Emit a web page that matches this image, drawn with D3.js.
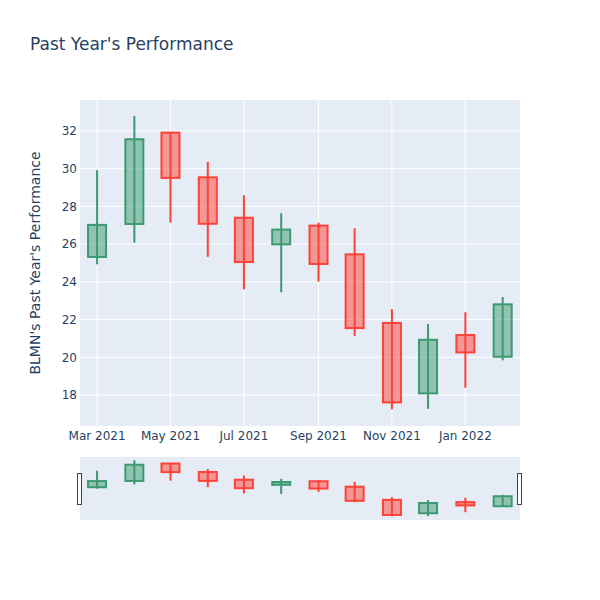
<!DOCTYPE html>
<html>
<head>
<meta charset="utf-8">
<script src="https://cdn.jsdelivr.net/npm/d3@7"></script>
<style>
  body { margin: 0; background: #fff; }
  text { font-family: "DejaVu Sans", "Open Sans", sans-serif; fill: #2a3f5f; }
</style>
</head>
<body>
<div id="chart"></div>
<script>
var months = ['2021-03-01', '2021-04-01', '2021-05-01', '2021-06-01', '2021-07-01', '2021-08-01',
              '2021-09-01', '2021-10-01', '2021-11-01', '2021-12-01', '2022-01-01', '2022-02-01'];
var openVals  = [25.32, 27.07, 31.91, 29.54, 27.40, 25.99, 26.98, 25.46, 21.82, 18.09, 21.18, 20.03];
var highVals  = [29.92, 32.80, 31.95, 30.36, 28.59, 27.64, 27.14, 26.84, 22.56, 21.77, 22.39, 23.20];
var lowVals   = [24.93, 26.08, 27.14, 25.33, 23.60, 23.45, 24.01, 21.13, 17.24, 17.27, 18.39, 19.84];
var closeVals = [27.02, 31.56, 29.51, 27.08, 25.05, 26.77, 24.95, 21.55, 17.61, 20.93, 20.26, 22.81];
var yTicks = [18, 20, 22, 24, 26, 28, 30, 32];
var xTicks = ['2021-03-01', '2021-05-01', '2021-07-01', '2021-09-01', '2021-11-01', '2022-01-01'];

var INC = '#3D9970', DEC = '#FF4136';
var W = 600, H = 600;
var plot = { left: 80, right: 520, top: 100, bottom: 426 };
var slider = { top: 457, bottom: 520 };

var parse = d3.utcParse('%Y-%m-%d');
var data = months.map(function (m, i) {
  return { date: parse(m), open: openVals[i], high: highVals[i], low: lowVals[i], close: closeVals[i] };
});

var DAY = 86400000;
var x = d3.scaleUtc()
  .domain([new Date(parse('2021-03-01').getTime() - 14.17 * DAY), new Date(parse('2022-02-01').getTime() + 14.4 * DAY)])
  .range([plot.left, plot.right]);
var y = d3.scaleLinear().domain([16.36, 33.64]).range([plot.bottom, plot.top]);
var ys = d3.scaleLinear().domain([16.22, 33.71]).range([slider.bottom, slider.top]);

var svg = d3.select('#chart').append('svg').attr('width', W).attr('height', H);

svg.append('text').attr('x', 30).attr('y', 50).style('font-size', '17px').text("Past Year's Performance");

svg.append('rect')
  .attr('x', plot.left).attr('y', plot.top)
  .attr('width', plot.right - plot.left).attr('height', plot.bottom - plot.top)
  .attr('fill', '#e5ecf6');

// grid
svg.append('g').selectAll('line').data(yTicks).join('line')
  .attr('x1', plot.left).attr('x2', plot.right)
  .attr('y1', function (d) { return y(d); }).attr('y2', function (d) { return y(d); })
  .attr('stroke', '#fff').attr('stroke-width', 1);
svg.append('g').selectAll('line').data(xTicks).join('line')
  .attr('y1', plot.top).attr('y2', plot.bottom)
  .attr('x1', function (d) { return x(parse(d)); }).attr('x2', function (d) { return x(parse(d)); })
  .attr('stroke', '#fff').attr('stroke-width', 1);

// tick labels
svg.append('g').selectAll('text').data(yTicks).join('text')
  .attr('x', plot.left - 3).attr('y', function (d) { return y(d) + 4.2; })
  .attr('text-anchor', 'end').style('font-size', '12px')
  .text(function (d) { return d; });
var fmt = d3.utcFormat('%b %Y');
svg.append('g').selectAll('text').data(xTicks).join('text')
  .attr('x', function (d) { return x(parse(d)); }).attr('y', plot.bottom + 13.5)
  .attr('text-anchor', 'middle').style('font-size', '12px')
  .text(function (d) { return fmt(parse(d)); });

svg.append('text')
  .attr('transform', 'translate(40,' + ((plot.top + plot.bottom) / 2) + ') rotate(-90)')
  .attr('text-anchor', 'middle').style('font-size', '14px')
  .text("BLMN's Past Year's Performance");

function drawCandles(g, yScale, bw) {
  var c = g.selectAll('g').data(data).join('g');
  c.append('line')
    .attr('x1', function (d) { return x(d.date); }).attr('x2', function (d) { return x(d.date); })
    .attr('y1', function (d) { return yScale(d.high); }).attr('y2', function (d) { return yScale(d.low); })
    .attr('stroke', function (d) { return d.close >= d.open ? INC : DEC; })
    .attr('stroke-width', 2);
  c.append('rect')
    .attr('x', function (d) { return x(d.date) - bw / 2; })
    .attr('width', bw)
    .attr('y', function (d) { return yScale(Math.max(d.open, d.close)); })
    .attr('height', function (d) { return Math.max(1, Math.abs(yScale(d.open) - yScale(d.close))); })
    .attr('fill', function (d) { return d.close >= d.open ? INC : DEC; })
    .attr('stroke', function (d) { return d.close >= d.open ? INC : DEC; })
    .attr('stroke-width', 2);
  // half-transparent fill over the background, keeping the solid outline
  c.selectAll('rect').attr('fill-opacity', 0.5);
}

drawCandles(svg.append('g'), y, 18);

// range slider
svg.append('rect')
  .attr('x', plot.left).attr('y', slider.top)
  .attr('width', plot.right - plot.left).attr('height', slider.bottom - slider.top)
  .attr('fill', '#e5ecf6');
drawCandles(svg.append('g'), ys, 18);
[plot.left, plot.right].forEach(function (px) {
  svg.append('rect')
    .attr('x', px - 2.5).attr('y', 473.5).attr('width', 4).attr('height', 31)
    .attr('fill', '#fff').attr('stroke', '#444').attr('stroke-width', 1);
});
</script>
</body>
</html>
